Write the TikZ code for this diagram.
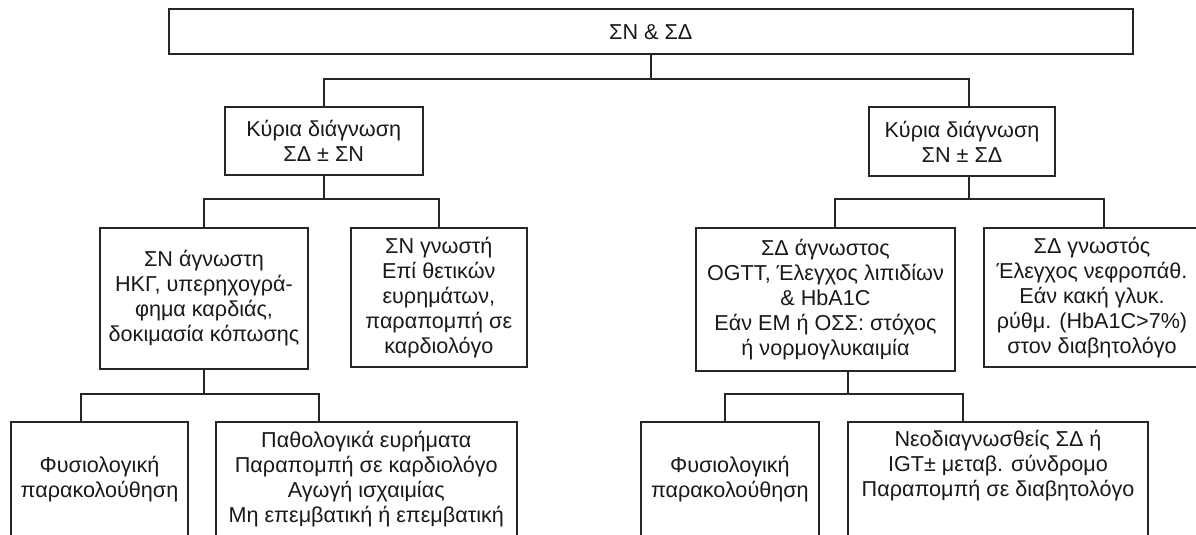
\documentclass[tikz,border=0pt]{standalone}
\usepackage{fontspec}
\setmainfont{Liberation Sans}

\begin{document}
\begin{tikzpicture}[x=0.5pt, y=-0.5pt, line width=1pt,
    font=\fontsize{10.8}{12.5}\selectfont,
    box/.style={rectangle, draw=black!85, text=black!90, align=center, inner sep=0pt},
    link/.style={draw=black!85}]
\useasboundingbox (0,0) rectangle (1196,535);
\clip (0,0) rectangle (1196,535);
\node[box, minimum width=481.75pt, minimum height=22.5pt] (top) at (650.75,31.8) {ΣΝ \& ΣΔ};
\node[box, minimum width=99.2pt, minimum height=34pt] (kl) at (323.75,141) {Κύρια διάγνωση\\ΣΔ ± ΣΝ};
\node[box, minimum width=93pt, minimum height=34.5pt] (kr) at (962,142) {Κύρια διάγνωση\\ΣΝ ± ΣΔ};
\node[box, minimum width=104pt, minimum height=70.5pt] (sna) at (204,298.5)
    {ΣΝ άγνωστη\\ΗΚΓ, υπερηχογρά-\\φημα καρδιάς,\\δοκιμασία κόπωσης};
\node[box, minimum width=87.8pt, minimum height=69.5pt] (sng) at (438.8,297.5)
    {ΣΝ γνωστή\\Επί θετικών\\ευρημάτων,\\παραπομπή σε\\καρδιολόγο};
\node[box, minimum width=129.5pt, minimum height=71.5pt] (sda) at (825.5,299.5)
    {ΣΔ άγνωστος\\OGTT, Έλεγχος λιπιδίων\\\& HbA1C\\Εάν ΕΜ ή ΟΣΣ: στόχος\\ή νορμογλυκαιμία};
\node[box, minimum width=108pt, minimum height=69.5pt] (sdg) at (1092,297.5)
    {ΣΔ γνωστός\\Έλεγχος νεφροπάθ.\\Εάν κακή γλυκ.\\ρύθμ. (HbA1C>7\%)\\στον διαβητολόγο};
\node[box, minimum width=88.5pt, minimum height=57.5pt] (fl) at (99.5,479.5) {Φυσιολογική\\παρακολούθηση};
\node[box, minimum width=150.3pt, minimum height=57.5pt] (pa) at (366.3,479.5)
    {Παθολογικά ευρήματα\\Παραπομπή σε καρδιολόγο\\Αγωγή ισχαιμίας\\Μη επεμβατική ή επεμβατική};
\node[box, minimum width=88.85pt, minimum height=57.5pt] (fr) at (729.85,479.5) {Φυσιολογική\\παρακολούθηση};
\node[box, minimum width=150pt, minimum height=57.5pt] (neo) at (998,479.5)
    {Νεοδιαγνωσθείς ΣΔ ή\\IGT± μεταβ. σύνδρομο\\Παραπομπή σε διαβητολόγο\\\strut};
\coordinate (b1a) at (324,79.5);
\coordinate (b1m) at (651,79.5);
\coordinate (b1b) at (969,79.5);
\coordinate (b2a) at (204,199);
\coordinate (b2m) at (324,199);
\coordinate (b2b) at (439,199);
\coordinate (b3a) at (835,199);
\coordinate (b3m) at (969,199);
\coordinate (b3b) at (1104,199);
\coordinate (b4a) at (81,394);
\coordinate (b4m) at (204,394);
\coordinate (b4b) at (319,394);
\coordinate (b5a) at (725,394);
\coordinate (b5m) at (847.7,394);
\coordinate (b5b) at (962.7,394);
\draw[link] (top.south -| b1m) -- (b1m);
\draw[link] (kl.north -| b1a) |- (b1b) -- (kr.north -| b1b);
\draw[link] (kl.south -| b2m) -- (b2m);
\draw[link] (sna.north -| b2a) |- (b2b) -- (sng.north -| b2b);
\draw[link] (kr.south -| b3m) -- (b3m);
\draw[link] (sda.north -| b3a) |- (b3b) -- (sdg.north -| b3b);
\draw[link] (sna.south -| b4m) -- (b4m);
\draw[link] (fl.north -| b4a) |- (b4b) -- (pa.north -| b4b);
\draw[link] (sda.south -| b5m) -- (b5m);
\draw[link] (fr.north -| b5a) |- (b5b) -- (neo.north -| b5b);
\end{tikzpicture}
\end{document}
